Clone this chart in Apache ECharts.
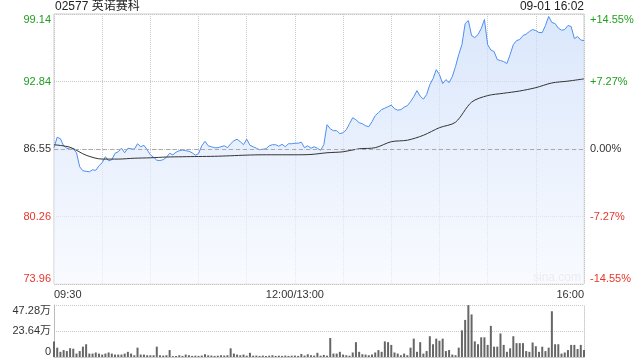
<!DOCTYPE html>
<html>
<head>
<meta charset="utf-8">
<script src="https://cdn.jsdelivr.net/npm/echarts@6/dist/echarts.min.js"></script>
<style>html,body{margin:0;padding:0;background:#fff}#c{width:640px;height:360px}</style>
</head>
<body>
<div id="c"></div>
<script>
// ---- data ----
const stockTitle = '02577 英诺赛科';
const stampText = '09-01 16:02';
const prevClose = 86.55;
const priceTickLabels = ['73.96', '80.26', '86.55', '92.84', '99.14'];
const pctTickLabels = ['-14.55%', '-7.27%', '0.00%', '+7.27%', '+14.55%'];
const volTickLabels = ['0', '23.64万', '47.28万'];
const volMax = 47.28;
const timeTickMinutes = [0, 150, 330];
const timeTickLabels = ['09:30', '12:00/13:00', '16:00'];
const sessionMinutes = 330;
const priceStep = 2;   // minutes between price / volume samples
const avgStep = 10;    // minutes between average-price samples

const prices = [
  86.67, 87.65, 87.51, 86.85, 86.62, 86.53, 86.57, 86.20, 84.89, 84.52,
  84.47, 84.42, 84.61, 84.56, 84.99, 85.27, 85.83, 85.45, 85.55, 86.15,
  86.29, 86.62, 86.20, 86.62, 86.57, 86.53, 87.04, 86.76, 86.90, 86.48,
  86.01, 85.78, 85.50, 85.48, 85.55, 85.78, 86.15, 86.01, 86.25, 86.39,
  86.45, 86.39, 86.34, 86.20, 85.97, 86.11, 86.85, 87.27, 86.85, 86.76,
  86.67, 86.67, 86.76, 86.85, 86.67, 87.04, 87.32, 87.46, 87.23, 86.95,
  87.46, 86.90, 86.76, 86.62, 86.48, 86.53, 86.57, 86.85, 86.95, 86.95,
  86.81, 86.99, 86.76, 87.04, 87.04, 87.09, 87.09, 87.18, 86.67, 86.85,
  86.62, 86.76, 86.62, 86.43, 86.95, 88.82, 88.44, 88.26, 88.26, 87.98,
  88.07, 88.35, 88.91, 89.47, 89.28, 89.00, 88.91, 88.72, 88.63, 89.10,
  89.66, 89.94, 90.22, 90.36, 90.50, 90.64, 90.31, 90.17, 90.22, 90.45,
  90.59, 90.97, 91.43, 91.99, 91.48, 91.20, 91.62, 92.55, 93.11, 93.95,
  93.49, 92.65, 93.02, 92.74, 93.30, 94.24, 95.36, 96.29, 98.25, 98.53,
  97.13, 96.94, 97.22, 97.79, 98.63, 96.29, 95.78, 95.64, 94.89, 94.80,
  94.70, 94.52, 95.36, 96.29, 96.66, 96.76, 97.13, 97.27, 97.51, 97.69,
  97.60, 97.41, 97.41, 98.07, 98.91, 98.35, 98.25, 97.83, 97.63, 97.69,
  98.07, 97.97, 96.85, 97.04, 96.71, 96.66
];

const avgPrices = [
  86.95, 86.71, 85.97, 85.61, 85.61, 85.69, 85.73, 85.80, 85.83, 85.85,
  85.87, 85.92, 85.98, 86.01, 86.01, 86.01, 86.04, 86.20, 86.29, 86.57,
  86.67, 87.23, 87.37, 87.83, 88.54, 89.05, 90.92, 91.53, 91.75, 91.96,
  92.27, 92.71, 92.88, 93.09
];

// volume in 万
const volumes = [
  14.2, 8.5, 4.7, 6.3, 5.4, 8.0, 7.5, 3.1, 5.4, 9.4,
  11.6, 3.1, 3.1, 4.1, 3.1, 2.2, 3.1, 4.1, 3.1, 2.2,
  2.2, 2.2, 3.1, 4.7, 3.1, 1.6, 8.5, 2.2, 2.2, 1.6,
  1.6, 1.6, 9.4, 1.6, 1.3, 1.6, 6.3, 0.8, 0.9, 1.6,
  1.0, 2.2, 1.6, 1.0, 1.2, 1.0, 1.3, 2.5, 1.5, 1.3,
  1.0, 1.2, 1.6, 1.3, 1.6, 7.9, 3.1, 2.2, 1.6, 2.2,
  1.2, 3.8, 1.2, 1.3, 1.0, 1.3, 1.0, 1.2, 1.6, 1.0,
  1.2, 1.0, 1.3, 1.0, 1.2, 1.3, 1.0, 2.8, 1.3, 2.5,
  1.6, 1.3, 3.8, 1.2, 1.9, 1.2, 17.3, 3.1, 3.1, 4.7,
  2.2, 1.6, 1.2, 4.1, 13.5, 4.7, 2.5, 2.2, 1.6, 2.2,
  4.1, 6.3, 4.7, 14.2, 13.5, 11.0, 4.1, 3.1, 1.6, 3.1,
  1.6, 8.5, 16.7, 4.7, 13.5, 3.1, 5.4, 18.9, 11.6, 16.7,
  14.8, 16.7, 5.4, 6.3, 2.2, 1.6, 8.5, 24.2, 33.7, 47.2,
  38.7, 14.2, 11.6, 17.9, 17.9, 11.0, 28.3, 9.4, 9.4, 21.4,
  11.0, 4.7, 7.9, 18.9, 12.6, 12.6, 12.6, 5.4, 4.7, 13.2,
  9.8, 4.7, 9.4, 5.4, 8.5, 41.6, 11.6, 11.6, 3.1, 4.1,
  6.3, 11.0, 11.0, 7.3, 11.0, 6.3
];

// ---- chart ----
const FONT = "'Liberation Sans','Noto Sans CJK SC',sans-serif";
const GREEN = '#1f9f1f', RED = '#e8342b', DARK = '#333';
const toPct = p => (p - prevClose) / prevClose * 100;
const pctMax = toPct(parseFloat(priceTickLabels[priceTickLabels.length - 1]));
const pctInterval = pctMax / 2;
const pctMin = -2 * pctInterval;
const tickIdx = v => Math.round((v - pctMin) / pctInterval);
const richCols = {
  g: {color: GREEN, fontSize: 11, fontFamily: FONT},
  r: {color: RED, fontSize: 11, fontFamily: FONT},
  k: {color: DARK, fontSize: 11, fontFamily: FONT}
};
const tag = i => (i > 2 ? 'g' : (i < 2 ? 'r' : 'k'));

const priceData = prices.map((p, i) => [i * priceStep, toPct(p)]);
const avgData = avgPrices.map((p, i) => [i * avgStep, toPct(p)]);
const volData = volumes.map((v, i) => [i * priceStep, v]);

const chart = echarts.init(document.getElementById('c'));
chart.setOption({
  animation: false,
  textStyle: {fontFamily: FONT},
  grid: [
    {left: 54, right: 56, top: 14, height: 270, show: true, borderColor: '#ccc', borderWidth: 1, backgroundColor: 'transparent'},
    {left: 54, right: 56, top: 305, height: 52}
  ],
  xAxis: [
    {
      gridIndex: 0, type: 'value', min: 0, max: sessionMinutes, interval: 30,
      axisLine: {show: false}, axisTick: {show: false},
      splitLine: {show: true, lineStyle: {type: 'dotted', color: '#c8c8c8'}},
      axisLabel: {
        show: true, margin: 5, fontSize: 11, color: DARK, fontFamily: FONT,
        showMinLabel: true, showMaxLabel: true,
        alignMinLabel: 'left', alignMaxLabel: 'right',
        formatter: v => {
          const k = timeTickMinutes.indexOf(Math.round(v));
          return k >= 0 ? timeTickLabels[k] : '';
        }
      }
    },
    {
      gridIndex: 1, type: 'value', min: 0, max: sessionMinutes, interval: 30,
      axisLine: {show: true, lineStyle: {color: '#ccc'}}, axisTick: {show: false},
      splitLine: {show: false}, axisLabel: {show: false}
    }
  ],
  yAxis: [
    {
      gridIndex: 0, type: 'value', position: 'left', min: pctMin, max: pctMax, interval: pctInterval,
      axisLine: {show: false}, axisTick: {show: false},
      splitLine: {show: true, lineStyle: {type: 'dotted', color: '#c8c8c8'}},
      axisLabel: {
        margin: 3, rich: richCols,
        verticalAlignMinLabel: 'bottom', verticalAlignMaxLabel: 'top',
        formatter: v => { const i = tickIdx(v); return '{' + tag(i) + '|' + priceTickLabels[i] + '}'; }
      }
    },
    {
      gridIndex: 0, type: 'value', position: 'right', min: pctMin, max: pctMax, interval: pctInterval,
      axisLine: {show: false}, axisTick: {show: false}, splitLine: {show: false},
      axisLabel: {
        margin: 6, rich: richCols,
        verticalAlignMinLabel: 'bottom', verticalAlignMaxLabel: 'top',
        formatter: v => { const i = tickIdx(v); return '{' + tag(i) + '|' + pctTickLabels[i] + '}'; }
      }
    },
    {
      gridIndex: 1, type: 'value', position: 'left', min: 0, max: volMax, interval: volMax / 2,
      axisLine: {show: true, lineStyle: {color: '#bbb'}}, axisTick: {show: false},
      splitLine: {show: true, lineStyle: {type: 'dotted', color: '#c8c8c8'}},
      axisLabel: {
        margin: 3, fontSize: 11, color: DARK, fontFamily: FONT,
        verticalAlignMinLabel: 'bottom', verticalAlignMaxLabel: 'top',
        formatter: v => volTickLabels[Math.round(v / (volMax / 2))]
      }
    },
    {
      gridIndex: 1, type: 'value', position: 'right', min: 0, max: volMax, interval: volMax / 2,
      axisLine: {show: true, lineStyle: {color: '#ccc', type: 'dotted'}}, axisTick: {show: false},
      splitLine: {show: false}, axisLabel: {show: false}
    }
  ],
  series: [
    {
      name: 'price', type: 'line', xAxisIndex: 0, yAxisIndex: 0, data: priceData,
      showSymbol: false, symbol: 'none',
      lineStyle: {color: '#4d8ef0', width: 1},
      areaStyle: {
        origin: 'start',
        color: new echarts.graphic.LinearGradient(0, 0, 0, 1, [
          {offset: 0, color: '#cadcf9'},
          {offset: 1, color: '#f5f8fe'}
        ])
      },
      markLine: {
        silent: true, symbol: 'none', label: {show: false},
        lineStyle: {type: [4, 3], color: '#aaa', width: 1},
        data: [{yAxis: 0}]
      },
      z: 3
    },
    {
      name: 'avg', type: 'line', xAxisIndex: 0, yAxisIndex: 0, data: avgData,
      showSymbol: false, symbol: 'none', smooth: 0.3,
      lineStyle: {color: '#333', width: 1}, z: 4
    },
    {
      name: 'volume', type: 'bar', xAxisIndex: 1, yAxisIndex: 2, data: volData,
      barWidth: 2, itemStyle: {color: '#666'}
    }
  ],
  graphic: [
    {type: 'text', left: 55, top: 1, style: {text: stockTitle, font: '12px ' + FONT, fill: '#222'}},
    {type: 'text', right: 56, top: 1, style: {text: stampText, font: '12px ' + FONT, fill: '#222'}},
    {type: 'text', left: 533, top: 272, style: {text: 'sina.com', font: '12px ' + FONT, fill: '#d2d2d2'}}
  ]
});
</script>
</body>
</html>
